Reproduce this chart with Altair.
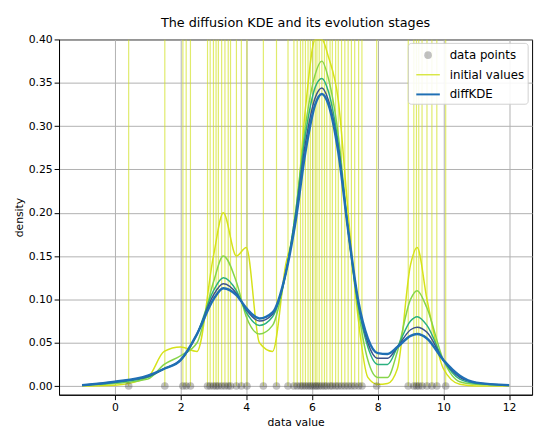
import altair as alt
import pandas as pd

# observed data points
data_x = [0.42, 1.52, 2.07, 2.17, 2.30, 2.82, 2.90, 3.00, 3.08, 3.15, 3.25, 3.35, 3.45, 3.52,
          3.70, 3.85, 4.02, 4.52, 4.92, 5.27, 5.45, 5.55, 5.65, 5.72, 5.80, 5.88, 5.95, 6.02,
          6.10, 6.15, 6.22, 6.30, 6.38, 6.45, 6.55, 6.62, 6.72, 6.80, 6.90, 7.00, 7.10, 7.20,
          7.30, 7.42, 7.52, 7.97, 8.93, 9.10, 9.18, 9.25, 9.35, 9.50, 9.65, 9.80, 10.07]

# evaluation grid and evolution stages
grid = [-1, 0, 1, 1.5, 2, 2.5, 3, 3.3, 3.7, 4, 4.4, 4.8, 5.2, 5.5, 5.8, 6.1, 6.3, 6.5,
        6.8, 7.1, 7.4, 7.7, 8, 8.3, 8.6, 9, 9.2, 9.5, 10, 10.5, 11, 12]
stage1 = [0.0, 0.001, 0.01, 0.04, 0.045, 0.04, 0.15, 0.2, 0.15, 0.16, 0.05, 0.04, 0.14, 0.19,
          0.32, 0.4, 0.4, 0.38, 0.33, 0.2, 0.08, 0.01, 0.002, 0.003, 0.02, 0.14, 0.16, 0.1,
          0.02, 0.002, 0.0, 0.0]
stage2 = [0.001, 0.003, 0.008, 0.025, 0.035, 0.05, 0.12, 0.15, 0.12, 0.08, 0.06, 0.07, 0.13,
          0.2, 0.3, 0.36, 0.375, 0.355, 0.29, 0.18, 0.09, 0.03, 0.01, 0.01, 0.04, 0.1, 0.11,
          0.09, 0.03, 0.005, 0.002, 0.001]
stage3 = [0.001, 0.004, 0.01, 0.02, 0.03, 0.06, 0.11, 0.125, 0.11, 0.085, 0.07, 0.08, 0.13,
          0.2, 0.29, 0.345, 0.355, 0.34, 0.28, 0.18, 0.095, 0.045, 0.025, 0.025, 0.045, 0.075,
          0.08, 0.07, 0.03, 0.008, 0.003, 0.001]
stage4 = [0.001, 0.005, 0.011, 0.02, 0.03, 0.06, 0.105, 0.118, 0.107, 0.088, 0.075, 0.083,
          0.13, 0.195, 0.28, 0.333, 0.344, 0.33, 0.275, 0.18, 0.098, 0.05, 0.032, 0.032, 0.045,
          0.065, 0.068, 0.062, 0.03, 0.01, 0.004, 0.001]
diffkde = [0.001, 0.005, 0.012, 0.02, 0.03, 0.06, 0.10, 0.113, 0.105, 0.09, 0.078, 0.085,
           0.13, 0.19, 0.27, 0.325, 0.337, 0.325, 0.27, 0.18, 0.10, 0.055, 0.038, 0.037,
           0.045, 0.058, 0.06, 0.055, 0.03, 0.012, 0.004, 0.001]

stages = [("s1", stage1, "#d6e21a"), ("s2", stage2, "#86d549"), ("s3", stage3, "#2ab07f"),
          ("s4", stage4, "#3b528b")]

xs = alt.Scale(domain=[-1.7, 12.7], nice=False)
ys = alt.Scale(domain=[-0.01, 0.40], nice=False)
xax = alt.Axis(values=list(range(0, 13, 2)), title="data value", grid=True, gridColor="#b0b0b0")
yax = alt.Axis(values=[i * 0.05 for i in range(9)], format=".2f", title="density",
               gridColor="#b0b0b0")

pts = pd.DataFrame({"x": data_x, "y": 0.0, "top": 0.40})

spikes = alt.Chart(pts).mark_rule(color="#d0e11c", opacity=0.65, strokeWidth=1.2, clip=True).encode(
    x=alt.X("x:Q", scale=xs, axis=xax), y=alt.Y("y:Q", scale=ys, axis=yax), y2="top:Q")

layers = [spikes]
for name, vals, col in stages:
    df = pd.DataFrame({"x": grid, "y": vals})
    layers.append(alt.Chart(df).mark_line(color=col, strokeWidth=1.5, interpolate="monotone",
                                          clip=True).encode(x=alt.X("x:Q", scale=xs),
                                                            y=alt.Y("y:Q", scale=ys)))
final = pd.DataFrame({"x": grid, "y": diffkde})
layers.append(alt.Chart(final).mark_line(color="#1f6fb4", strokeWidth=2.5, interpolate="monotone",
                                         clip=True).encode(x=alt.X("x:Q", scale=xs),
                                                           y=alt.Y("y:Q", scale=ys)))
layers.append(alt.Chart(pts).mark_circle(color="#333333", opacity=0.3, size=60).encode(
    x=alt.X("x:Q", scale=xs), y=alt.Y("y:Q", scale=ys)))

# legend box
legend = [
    alt.Chart(pts.head(1)).mark_rect(fill="white", stroke="#cccccc", cornerRadius=3, opacity=0.9).encode(
        x=alt.value(356), x2=alt.value(478), y=alt.value(4), y2=alt.value(66)),
    alt.Chart(pts.head(1)).mark_circle(color="#333333", opacity=0.3, size=60).encode(
        x=alt.value(376), y=alt.value(16)),
    alt.Chart(pts.head(1)).mark_rule(color="#d0e11c", strokeWidth=1.2).encode(
        x=alt.value(364), x2=alt.value(388), y=alt.value(36)),
    alt.Chart(pts.head(1)).mark_rule(color="#1f6fb4", strokeWidth=2).encode(
        x=alt.value(364), x2=alt.value(388), y=alt.value(56)),
]
for yy, label in [(16, "data points"), (36, "initial values"), (56, "diffKDE")]:
    legend.append(alt.Chart(pts.head(1)).mark_text(align="left", baseline="middle", fontSize=12,
                                                  font="DejaVu Sans").encode(
        x=alt.value(398), y=alt.value(yy), text=alt.value(label)))

chart = alt.layer(*layers, *legend).properties(
    width=482, height=362,
    title=alt.TitleParams("The diffusion KDE and its evolution stages", fontSize=13,
                          fontWeight="normal", font="DejaVu Sans"),
).configure_axis(
    labelFont="DejaVu Sans", titleFont="DejaVu Sans", labelFontSize=11, titleFontSize=11,
    titleFontWeight="normal", domainColor="black", tickColor="black", labelColor="black",
).configure_view(stroke="black")

chart.save("out.html", embed_options={"renderer": "svg", "actions": False})
